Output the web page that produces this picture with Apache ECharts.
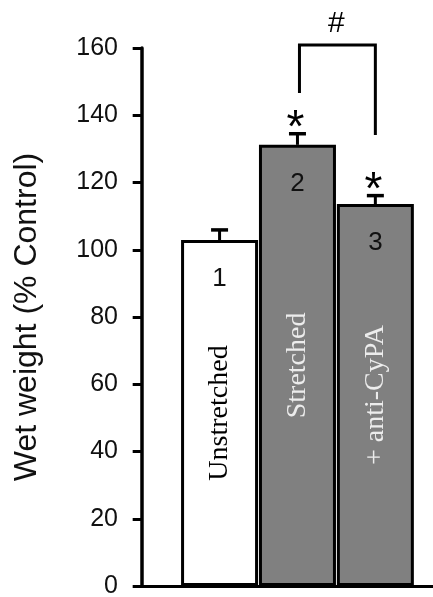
<!DOCTYPE html>
<html>
<head>
<meta charset="utf-8">
<script src="https://cdn.jsdelivr.net/npm/echarts@6/dist/echarts.min.js"></script>
<style>
  html, body { margin: 0; padding: 0; background: #fff; }
  #chart { width: 433px; height: 597px; }
</style>
</head>
<body>
<div id="chart"></div>
<script>
// ---- data ----
const categories = ['Unstretched', 'Stretched', '+ anti-CyPA'];
const barNumbers = ['1', '2', '3'];
const values = [102.9, 131.2, 113.6];
const errors = [3.0, 3.3, 2.5];
const significant = [false, true, true];
const yTicks = [0, 20, 40, 60, 80, 100, 120, 140, 160];
const yTitle = 'Wet weight (% Control)';
const bracketPair = [2, 3];          // bars connected by the bracket
const bracketEnds = [146.6, 134.1];  // lower ends of the bracket legs
const bracketTop = 160.9;
const bracketLabel = '#';
const bracketLabelValue = 167.1;

// ---- chart ----
const positions = categories.map((c, i) => i + 1);
const fillColors = ['#ffffff', '#808080', '#808080'];
const textColors = ['#000000', '#ececec', '#ececec'];

const chart = echarts.init(document.getElementById('chart'), null, { renderer: 'canvas' });

const barData = values.map((v, i) => ({
  value: [positions[i], v],
  itemStyle: { color: fillColors[i] },
  label: { color: textColors[i] }
}));

const errData = values.map((v, i) => [positions[i], v, errors[i], significant[i] ? 1 : 0]);

const option = {
  animation: false,
  backgroundColor: '#ffffff',
  grid: { left: 137, right: 0, top: 48, bottom: 11, containLabel: false, outerBoundsMode: 'none' },
  xAxis: {
    type: 'value',
    min: -0.06,
    max: 3.74,
    axisLine: { show: true, onZero: false, lineStyle: { color: '#000', width: 3 } },
    axisTick: { show: false },
    axisLabel: { show: false },
    splitLine: { show: false }
  },
  yAxis: {
    type: 'value',
    min: yTicks[0],
    max: yTicks[yTicks.length - 1],
    interval: yTicks[1] - yTicks[0],
    name: yTitle,
    nameLocation: 'middle',
    nameGap: 94,
    nameRotate: 90,
    nameTextStyle: { fontFamily: 'Liberation Sans', fontSize: 32, color: '#111' },
    axisLine: { show: true, lineStyle: { color: '#000', width: 3.5 } },
    axisTick: { show: true, inside: false, length: 9, lineStyle: { color: '#000', width: 3 } },
    axisLabel: { margin: 19, fontFamily: 'Liberation Sans', fontSize: 25, color: '#111' },
    splitLine: { show: false }
  },
  series: [
    {
      type: 'bar',
      data: barData,
      barWidth: 77,
      itemStyle: { borderColor: '#000', borderWidth: 3 },
      label: {
        show: true,
        position: 'inside',
        rotate: 90,
        fontFamily: 'Liberation Serif',
        fontSize: 28,
        formatter: p => categories[p.dataIndex]
      },
      z: 2
    },
    {
      type: 'custom',
      clip: false,
      data: errData,
      z: 3,
      renderItem: function (params, api) {
        const x = api.value(0), v = api.value(1), e = api.value(2), sig = api.value(3);
        const top = api.coord([x, v]);
        const cap = api.coord([x, v + e]);
        const children = [
          { type: 'line', shape: { x1: top[0], y1: top[1], x2: cap[0], y2: cap[1] }, style: { stroke: '#000', lineWidth: 3 } },
          { type: 'line', shape: { x1: cap[0] - 8.5, y1: cap[1], x2: cap[0] + 8.5, y2: cap[1] }, style: { stroke: '#000', lineWidth: 3.5 } },
          { type: 'text', x: top[0], y: top[1] + 39,
            style: { text: barNumbers[params.dataIndex], fill: '#111', fontFamily: 'Liberation Sans', fontSize: 26, align: 'center', verticalAlign: 'middle' } }
        ];
        if (sig) {
          children.push({ type: 'text', x: cap[0] - 2, y: cap[1] - 17 + 13,
            style: { text: '*', fill: '#000', fontFamily: 'Liberation Sans', fontSize: 46, align: 'center', verticalAlign: 'middle' } });
        }
        return { type: 'group', children: children };
      }
    },
    {
      type: 'custom',
      clip: false,
      data: [[bracketPair[0], bracketPair[1], bracketEnds[0], bracketEnds[1], bracketTop, bracketLabelValue]],
      z: 3,
      renderItem: function (params, api) {
        const l0 = api.coord([api.value(0), api.value(2)]);
        const lt = api.coord([api.value(0), api.value(4)]);
        const r0 = api.coord([api.value(1), api.value(3)]);
        const rt = api.coord([api.value(1), api.value(4)]);
        const lab = api.coord([(api.value(0) + api.value(1)) / 2, api.value(5)]);
        return {
          type: 'group',
          children: [
            { type: 'polyline', shape: { points: [[l0[0] + 2, l0[1]], [lt[0] + 2, lt[1]], [rt[0], rt[1]], [r0[0], r0[1]]] },
              style: { stroke: '#000', lineWidth: 3, fill: null } },
            { type: 'text', x: lab[0], y: lab[1],
              style: { text: bracketLabel, fill: '#000', fontFamily: 'Liberation Sans', fontSize: 30, align: 'center', verticalAlign: 'middle' } }
          ]
        };
      }
    }
  ]
};

chart.setOption(option);
</script>
</body>
</html>
